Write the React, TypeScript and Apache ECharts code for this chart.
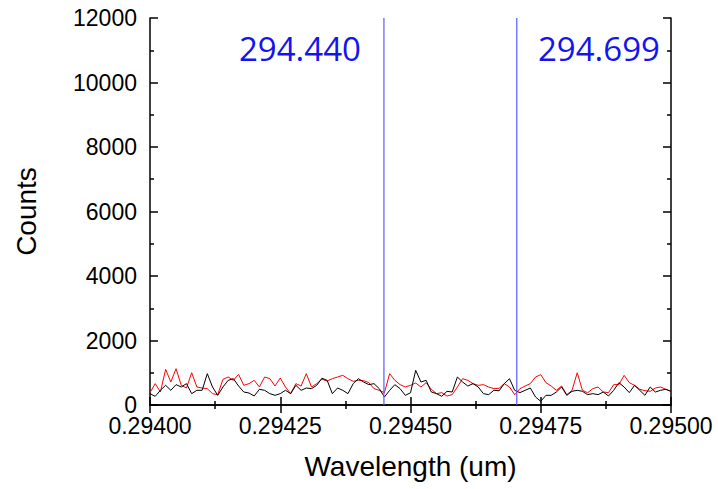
import React, { useEffect, useRef } from "react";
import * as echarts from "echarts";

const startWavelength = 0.294;
const stepWavelength = 0.00001;

const redCounts = [
  383, 662, 403, 1106, 713, 1126, 610, 527, 1002, 558, 527, 507, 352, 320, 796, 868, 765, 950, 610, 662,
  765, 558, 868, 816, 589, 837, 558, 352, 662, 589, 972, 558, 662, 800, 744, 816, 868, 920, 816, 734,
  765, 755, 692, 507, 455, 383, 972, 765, 631, 558, 610, 682, 558, 692, 486, 352, 383, 279, 320, 558,
  816, 765, 662, 610, 631, 558, 507, 517, 662, 558, 320, 507, 589, 662, 868, 940, 692, 589, 455, 589,
  320, 455, 1000, 455, 380, 507, 558, 403, 383, 631, 631, 920, 692, 610, 486, 445, 424, 527, 558, 486,
  424,
];

const blackCounts = [
  352, 269, 455, 610, 455, 631, 558, 662, 352, 455, 455, 972, 558, 300, 558, 765, 816, 590, 403, 372,
  279, 486, 455, 352, 300, 352, 455, 352, 610, 455, 527, 507, 610, 830, 765, 352, 527, 455, 352, 662,
  816, 713, 631, 662, 507, 248, 455, 631, 507, 300, 378, 1075, 713, 765, 403, 352, 269, 424, 403, 868,
  713, 589, 662, 558, 352, 320, 455, 440, 662, 816, 455, 383, 455, 527, 248, 114, 300, 300, 403, 558,
  300, 424, 455, 424, 320, 352, 320, 403, 279, 455, 692, 558, 383, 610, 455, 300, 558, 403, 455, 486,
  424,
];

const markerWavelengths = [0.294449, 0.294704];
const markerLabels = ["294.440", "294.699"];

const xMin = 0.294;
const xMax = 0.295;
const xInterval = 0.00025;
const yMin = 0;
const yMax = 12000;
const yInterval = 2000;

export default function App() {
  const ref = useRef<HTMLDivElement>(null);
  useEffect(() => {
    if (!ref.current) return;
    const chart = echarts.init(ref.current, null, { renderer: "svg" });
    const toPairs = (arr: number[]) =>
      arr.map((v, i) => [Number((startWavelength + i * stepWavelength).toFixed(6)), v]);

    const axisCommon = {
      axisLine: { show: true, lineStyle: { color: "#000", width: 1.5 } },
      axisTick: { show: true, inside: true, length: 8, lineStyle: { color: "#000", width: 1.5 } },
      minorTick: { show: true, splitNumber: 2, length: 4, lineStyle: { color: "#000", width: 1.5 } },
      splitLine: { show: false },
    };
    const font = "Liberation Sans, Arial, sans-serif";

    const markerSeries = markerWavelengths.map((w) => ({
      type: "line",
      data: [
        [w, yMin],
        [w, yMax],
      ],
      showSymbol: false,
      silent: true,
      lineStyle: { color: "#5a5aff", width: 1.2 },
      z: 4,
    }));

    chart.setOption({
      animation: false,
      backgroundColor: "#fff",
      grid: { left: 150, right: 47, top: 18, bottom: 84, containLabel: false },
      xAxis: [
        {
          type: "value",
          position: "bottom",
          min: xMin,
          max: xMax,
          interval: xInterval,
          ...axisCommon,
          axisLabel: {
            color: "#000",
            fontSize: 23,
            fontFamily: font,
            margin: 13,
            lineHeight: 16,
            formatter: (v: number) => v.toFixed(5),
          },
          name: "Wavelength (um)",
          nameLocation: "middle",
          nameGap: 47,
          nameTextStyle: { color: "#000", fontSize: 28, fontFamily: font },
        },
        {
          type: "value",
          position: "top",
          min: xMin,
          max: xMax,
          interval: xInterval,
          ...axisCommon,
          axisLabel: { show: false },
        },
      ],
      yAxis: [
        {
          type: "value",
          position: "left",
          min: yMin,
          max: yMax,
          interval: yInterval,
          ...axisCommon,
          axisLabel: {
            color: "#000",
            fontSize: 23,
            fontFamily: font,
            margin: 13,
            lineHeight: 16,
            formatter: (v: number) => String(v),
          },
          name: "Counts",
          nameLocation: "middle",
          nameGap: 110,
          nameTextStyle: { color: "#000", fontSize: 28, fontFamily: font },
        },
        {
          type: "value",
          position: "right",
          min: yMin,
          max: yMax,
          interval: yInterval,
          ...axisCommon,
          axisLabel: { show: false },
        },
      ],
      series: [
        {
          type: "line",
          data: toPairs(redCounts),
          showSymbol: false,
          lineStyle: { color: "#ff0000", width: 1 },
          z: 2,
        },
        {
          type: "line",
          data: toPairs(blackCounts),
          showSymbol: false,
          lineStyle: { color: "#000000", width: 1 },
          z: 3,
        },
        ...markerSeries,
      ],
      graphic: markerLabels.map((t, i) => ({
        type: "text",
        left: i === 0 ? 239 : 538,
        top: 32,
        style: {
          text: t,
          fill: "#1414ee",
          fontSize: 33,
          fontFamily: "Open Sans, Noto Sans, sans-serif",
        },
      })),
    });
    return () => chart.dispose();
  }, []);
  return <div ref={ref} style={{ position: "fixed", left: 0, top: 0, width: 718, height: 489 }} />;
}
